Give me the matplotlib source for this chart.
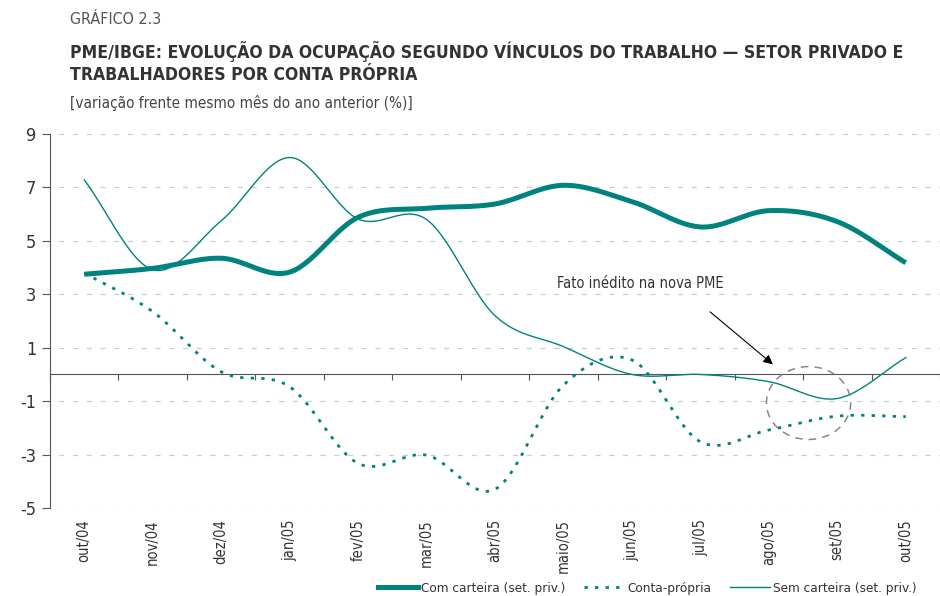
import numpy as np
import matplotlib
matplotlib.use("Agg")
import matplotlib.pyplot as plt
from matplotlib.lines import Line2D
from matplotlib.patches import Ellipse

MONTHS = ["out/04", "nov/04", "dez/04", "jan/05", "fev/05", "mar/05", "abr/05",
          "maio/05", "jun/05", "jul/05", "ago/05", "set/05", "out/05"]
COM_CARTEIRA = [3.75, 3.97, 4.35, 3.83, 5.88, 6.22, 6.38, 7.08, 6.47, 5.52, 6.13, 5.72, 4.18]
CONTA_PROPRIA = [3.8, 2.35, 0.1, -0.46, -3.33, -3.02, -4.3, -0.4, 0.54, -2.52, -2.08, -1.56, -1.58]
SEM_CARTEIRA = [7.28, 3.92, 5.75, 8.12, 5.82, 5.8, 2.2, 1.04, 0.0, 0.0, -0.27, -0.9, 0.63]
YTICKS = [9, 7, 5, 3, 1, -1, -3, -5]

TEAL = "#00827f"
plt.rcParams["font.family"] = ["DejaVu Sans"]
plt.rcParams["font.stretch"] = "condensed"


def smooth(y, n=30):
    # Catmull-Rom curve through the monthly points (Excel "smoothed line" look)
    y = np.asarray(y, float)
    x = np.arange(len(y), dtype=float)
    px = np.concatenate([[2 * x[0] - x[1]], x, [2 * x[-1] - x[-2]]])
    py = np.concatenate([[2 * y[0] - y[1]], y, [2 * y[-1] - y[-2]]])
    xs, ys = [], []
    t = np.linspace(0, 1, n, endpoint=False)
    for i in range(1, len(px) - 2):
        for arr, out in ((px, xs), (py, ys)):
            p0, p1, p2, p3 = arr[i - 1:i + 3]
            out.extend(0.5 * (2 * p1 + (-p0 + p2) * t + (2 * p0 - 5 * p1 + 4 * p2 - p3) * t ** 2
                              + (-p0 + 3 * p1 - 3 * p2 + p3) * t ** 3))
    xs.append(x[-1]); ys.append(y[-1])
    return np.array(xs), np.array(ys)


fig = plt.figure(figsize=(9.4, 5.96), dpi=100)
ax = fig.add_axes([50 / 940, 1 - 508 / 596, 890 / 940, 374 / 596])

x, y = smooth(COM_CARTEIRA)
ax.plot(x, y, color=TEAL, lw=3.6, solid_capstyle="butt", zorder=4)
x, y = smooth(CONTA_PROPRIA)
ax.plot(x, y, color=TEAL, lw=2.0, linestyle=(0, (1.2, 2.6)), zorder=3)
x, y = smooth(SEM_CARTEIRA)
ax.plot(x, y, color=TEAL, lw=1.0, zorder=3)

ax.set_ylim(-5, 9)
ax.set_xlim(-0.5, 12.36)
ax.set_yticks(YTICKS)
ax.set_yticklabels([str(v) for v in YTICKS], fontsize=13, color="#333333")
for v in YTICKS:
    ax.axhline(v, color="#cccccc", lw=0.9, linestyle=(4, (4, 7)), zorder=1)

# zero line carries the category boundary ticks
ax.spines["bottom"].set_position(("data", 0))
ax.spines["bottom"].set_color("#555555")
ax.spines["left"].set_color("#555555")
ax.spines["top"].set_visible(False)
ax.spines["right"].set_visible(False)
ax.set_xticks(np.arange(-0.5, 12.6, 1.0))
ax.set_xticklabels([])
ax.tick_params(axis="x", direction="out", length=4, color="#555555")
ax.tick_params(axis="y", direction="out", length=6, color="#555555", pad=4)

sec = ax.secondary_xaxis(0)
sec.set_xticks(range(len(MONTHS)))
sec.set_xticklabels(MONTHS, rotation=90, fontsize=10.5, color="#333333")
sec.tick_params(length=0, pad=8)
sec.spines["bottom"].set_visible(False)

# annotation
ax.text(6.9, 3.39, "Fato inédito na nova PME", fontsize=10.5, color="#333333",
        va="center", ha="left")
ax.annotate("", xy=(10.09, 0.31), xytext=(9.11, 2.41),
            arrowprops=dict(arrowstyle="-|>", color="black", lw=0.8, mutation_scale=14))
ax.add_patch(Ellipse((10.58, -1.07), 1.23, 2.73, fill=False, edgecolor="#888888",
                     lw=1.1, linestyle=(0, (5, 4)), zorder=5))

fig.text(70 / 940, 1 - 20 / 596, "GRÁFICO 2.3", fontsize=11.5, color="#555555", va="center")
fig.text(70 / 940, 1 - 52 / 596, "PME/IBGE: EVOLUÇÃO DA OCUPAÇÃO SEGUNDO VÍNCULOS DO TRABALHO — SETOR PRIVADO E",
         fontsize=12.6, fontweight="bold", color="#333333", va="center")
fig.text(70 / 940, 1 - 75 / 596, "TRABALHADORES POR CONTA PRÓPRIA",
         fontsize=12.6, fontweight="bold", color="#333333", va="center")
fig.text(70 / 940, 1 - 103 / 596, "[variação frente mesmo mês do ano anterior (%)]",
         fontsize=11, color="#444444", va="center")

handles = [Line2D([], [], color=TEAL, lw=3.6),
           Line2D([], [], color=TEAL, lw=2.0, linestyle=(0, (1.2, 2.6))),
           Line2D([], [], color=TEAL, lw=1.0)]
labels = ["Com carteira (set. priv.)", "Conta-própria", "Sem carteira (set. priv.)"]
fig.legend(handles, labels, loc="lower right", bbox_to_anchor=(0.988, -0.018), ncol=3,
           frameon=False, fontsize=9.7, handlelength=3.0, handletextpad=0.2,
           columnspacing=1.4, labelcolor="#333333")

fig.savefig("out.png", dpi=100)
